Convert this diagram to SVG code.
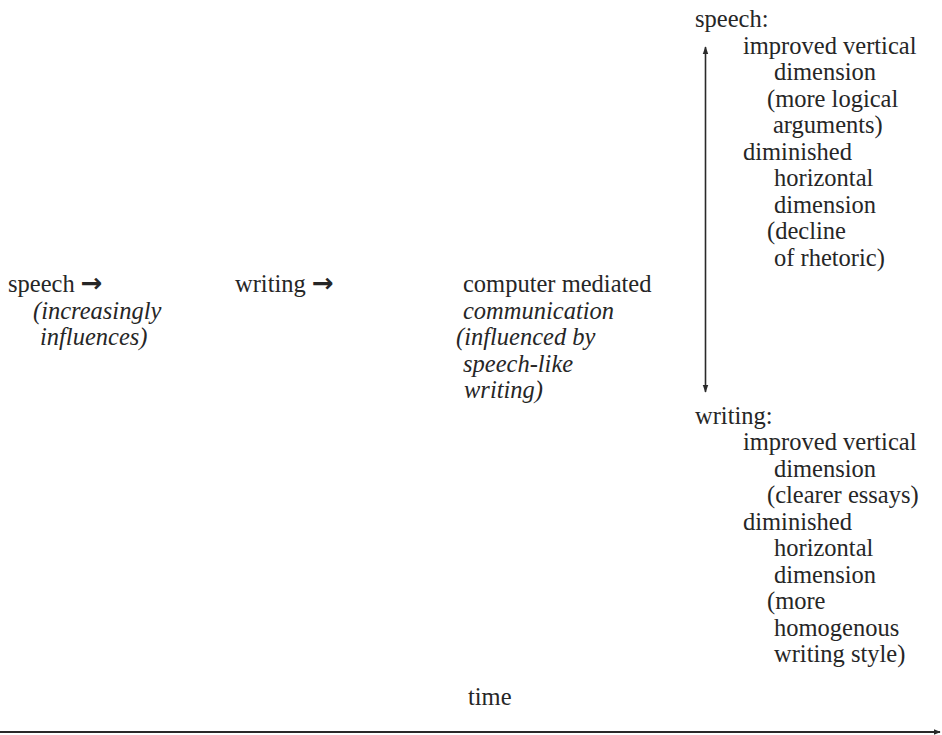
<svg xmlns="http://www.w3.org/2000/svg" width="942" height="735" viewBox="0 0 942 735">
<style>
text{font-family:"Liberation Serif","Times New Roman",serif;font-size:24.5px;fill:#262626}
.it{font-style:italic}
.ar{font-family:"DejaVu Sans",sans-serif;font-size:26px;font-weight:bold}
.ln{stroke:#2a2a2a;fill:none}
</style>
<defs>
<marker id="ah" viewBox="0 0 10 10" refX="9" refY="5" markerWidth="8" markerHeight="8" markerUnits="userSpaceOnUse" orient="auto-start-reverse">
<path d="M0,1.5 L10,5 L0,8.5 z" fill="#2a2a2a"/>
</marker>
<marker id="ah2" viewBox="0 0 10 10" refX="9" refY="5" markerWidth="7" markerHeight="7" markerUnits="userSpaceOnUse" orient="auto">
<path d="M0,1 L10,5 L0,9 z" fill="#2a2a2a"/>
</marker>
</defs>
<rect width="942" height="735" fill="#fff"/>
<g id="speech-node">
<text x="8" y="292">speech <tspan class="ar">→</tspan></text>
<text x="33" y="318.5" class="it">(increasingly</text>
<text x="40" y="345" class="it">influences)</text>
</g>
<g id="writing-node">
<text x="235" y="292">writing <tspan class="ar">→</tspan></text>
</g>
<g id="cmc-node">
<text x="463" y="292">computer mediated</text>
<text x="463" y="318.5" class="it">communication</text>
<text x="456" y="345" class="it">(influenced by</text>
<text x="463" y="371.5" class="it">speech-like</text>
<text x="464" y="398" class="it">writing)</text>
</g>
<g id="speech-outcome">
<text x="695" y="27">speech:</text>
<text x="743" y="53.5">improved vertical</text>
<text x="774" y="80">dimension</text>
<text x="767" y="106.5">(more logical</text>
<text x="773" y="133">arguments)</text>
<text x="743" y="159.5">diminished</text>
<text x="774" y="186">horizontal</text>
<text x="774" y="212.5">dimension</text>
<text x="767" y="239">(decline</text>
<text x="774" y="265.5">of rhetoric)</text>
</g>
<g id="writing-outcome">
<text x="695" y="424">writing:</text>
<text x="743" y="450">improved vertical</text>
<text x="774" y="476.5">dimension</text>
<text x="767" y="503">(clearer essays)</text>
<text x="743" y="529.5">diminished</text>
<text x="774" y="556">horizontal</text>
<text x="774" y="582.5">dimension</text>
<text x="767" y="609">(more</text>
<text x="774" y="635.5">homogenous</text>
<text x="774" y="662">writing style)</text>
</g>
<g id="time-label">
<text x="468" y="705">time</text>
</g>
<g id="connectors">
<line class="ln" x1="705.5" y1="47" x2="705.5" y2="392" stroke-width="1.6" marker-start="url(#ah)" marker-end="url(#ah)"/>
<line class="ln" x1="0" y1="732" x2="940" y2="732" stroke-width="2" marker-end="url(#ah2)"/>
</g>
</svg>
